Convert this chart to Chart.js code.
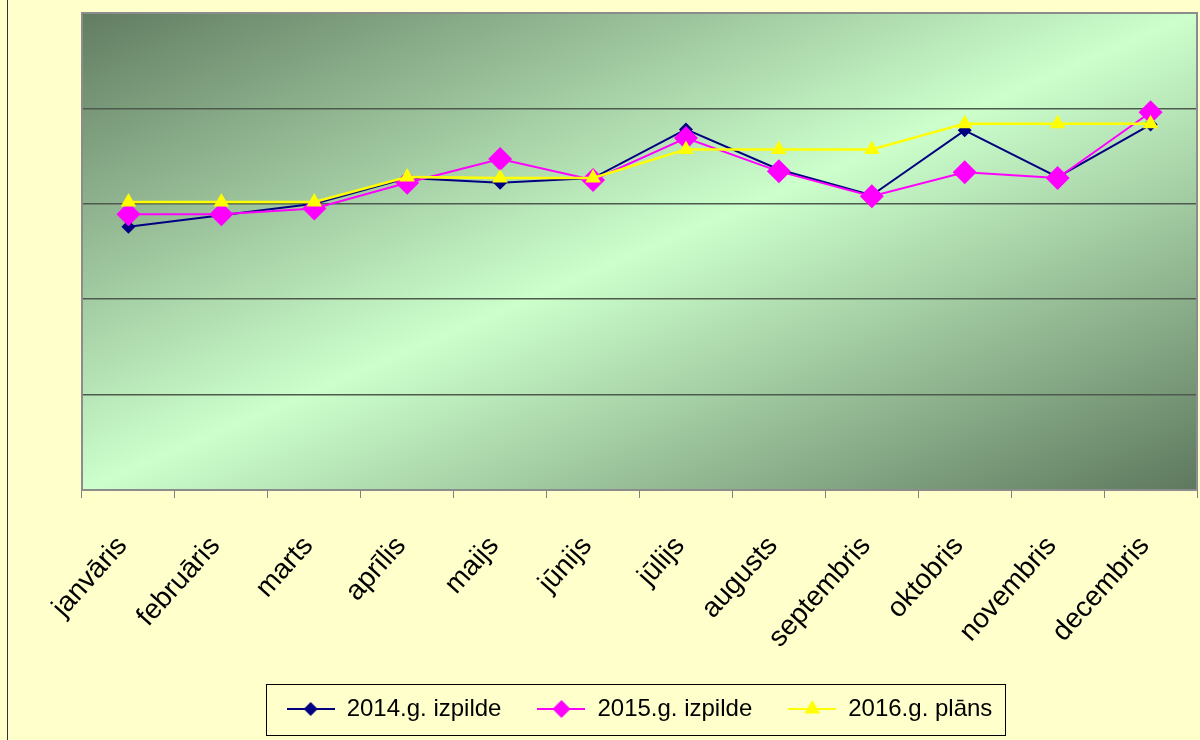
<!DOCTYPE html>
<html>
<head>
<meta charset="utf-8">
<script src="https://cdn.jsdelivr.net/npm/chart.js@4.4.1/dist/chart.umd.min.js"></script>
<style>
  html, body { margin: 0; padding: 0; background: #FFFFCC; }
  #wrap { width: 1200px; height: 740px; }
</style>
</head>
<body>
<div id="wrap"><canvas id="chart" width="1200" height="740"></canvas></div>
<script>
var months = ['janvāris', 'februāris', 'marts', 'aprīlis', 'maijs', 'jūnijs', 'jūlijs', 'augusts', 'septembris', 'oktobris', 'novembris', 'decembris']
var izpilde2014 = [276, 288, 300, 327, 322, 327, 378, 336, 309, 377, 328, 383]
var izpilde2015 = [289, 289, 295, 322, 347, 325, 369, 334, 308, 333, 327, 396]
var plans2016 = [302, 302, 302, 328, 327, 327, 357, 357, 357, 384, 384, 384]
var seriesNames = ['2014.g. izpilde', '2015.g. izpilde', '2016.g. plāns']

var FONT = "'Liberation Sans', Arial, sans-serif"

// small line+marker pictures for the legend
function legendIcon(color, shape, r) {
  var c = document.createElement('canvas')
  c.width = 48
  c.height = 24
  var g = c.getContext('2d')
  g.strokeStyle = color
  g.lineWidth = 2
  g.beginPath()
  g.moveTo(0, 12)
  g.lineTo(48, 12)
  g.stroke()
  g.fillStyle = color
  g.beginPath()
  if (shape === 'diamond') {
    g.moveTo(24, 12 - r); g.lineTo(24 + r, 12); g.lineTo(24, 12 + r); g.lineTo(24 - r, 12)
  } else {
    g.moveTo(24, 12 - r); g.lineTo(24 + r * 0.87, 12 + r * 0.5); g.lineTo(24 - r * 0.87, 12 + r * 0.5)
  }
  g.closePath()
  g.fill()
  return c
}
var icons = [legendIcon('#000080', 'diamond', 7), legendIcon('#FF00FF', 'diamond', 9), legendIcon('#FFFF00', 'tri', 9)]

var backdrop = {
  id: 'backdrop',
  beforeDraw: function (chart) {
    var ctx = chart.ctx, a = chart.chartArea
    ctx.save()
    ctx.fillStyle = '#FFFFCC'
    ctx.fillRect(0, 0, chart.width, chart.height)
    ctx.fillStyle = '#333'
    ctx.fillRect(7, 0, 1, chart.height)
    var w = a.right - a.left, h = a.bottom - a.top
    var cx = (a.left + a.right) / 2, cy = (a.top + a.bottom) / 2
    var n = Math.sqrt(w * w + h * h), d = w * h / n
    var ux = h / n, uy = w / n
    var grad = ctx.createLinearGradient(cx - d * ux, cy - d * uy, cx + d * ux, cy + d * uy)
    grad.addColorStop(0, 'rgb(98,124,98)')
    grad.addColorStop(0.5, 'rgb(204,255,204)')
    grad.addColorStop(1, 'rgb(94,120,94)')
    ctx.fillStyle = grad
    ctx.fillRect(a.left, a.top, w, h)
    ctx.restore()
  },
  beforeDatasetsDraw: function (chart) {
    var ctx = chart.ctx, a = chart.chartArea
    ctx.save()
    ctx.strokeStyle = '#8c8c8c'
    ctx.lineWidth = 2
    ctx.strokeRect(a.left, a.top, a.right - a.left, a.bottom - a.top)
    ctx.restore()
  },
  afterDraw: function (chart) {
    var boxes = chart.legend.legendHitBoxes
    if (!boxes || !boxes.length) return
    var first = boxes[0], last = boxes[boxes.length - 1]
    var mid = first.top + first.height / 2
    var ctx = chart.ctx
    ctx.save()
    ctx.strokeStyle = '#000'
    ctx.lineWidth = 1
    ctx.strokeRect(Math.round(first.left - 21) + 0.5, Math.round(mid - 25) + 0.5, Math.round(last.left + last.width + 12 - first.left + 21), 51)
    ctx.restore()
  }
}

var ctx = document.getElementById('chart').getContext('2d')
var myChart = new Chart(ctx, {
  type: 'line',
  data: {
    labels: months,
    datasets: [
      {
        label: seriesNames[0],
        data: izpilde2014,
        borderColor: '#000080',
        backgroundColor: '#000080',
        borderWidth: 2,
        pointStyle: 'rectRot',
        pointRadius: 7,
        pointBorderWidth: 0,
        order: 2,
      },
      {
        label: seriesNames[1],
        data: izpilde2015,
        borderColor: '#FF00FF',
        backgroundColor: '#FF00FF',
        borderWidth: 2,
        pointStyle: 'rectRot',
        pointRadius: 12,
        pointBorderWidth: 0,
        order: 1,
      },
      {
        label: seriesNames[2],
        data: plans2016,
        borderColor: '#FFFF00',
        backgroundColor: '#FFFF00',
        borderWidth: 2.5,
        pointStyle: 'triangle',
        pointRadius: 9,
        pointBorderWidth: 0,
        order: 0,
      },
    ],
  },
  options: {
    responsive: false,
    animation: false,
    layout: { autoPadding: false, padding: { left: 82, right: 3, top: 13, bottom: 9 } },
    scales: {
      x: {
        offset: true,
        grid: { offset: true, drawOnChartArea: false, drawTicks: true, tickLength: 8, color: '#808080' },
        border: { color: '#606060', width: 2 },
        ticks: {
          autoSkip: false,
          minRotation: 48,
          maxRotation: 48,
          padding: 32,
          labelOffset: -6,
          color: '#000',
          font: { family: FONT, size: 28 },
        },
        afterFit: function (scale) {
          scale.height = 171
          scale.paddingRight = 0
          scale.paddingLeft = 0
        },
      },
      y: {
        min: 0,
        max: 500,
        ticks: { display: false, stepSize: 100 },
        grid: { drawTicks: false, color: '#4f5a4f', lineWidth: 1.5 },
        border: { color: '#8c8c8c', width: 2 },
      },
    },
    plugins: {
      tooltip: { enabled: false },
      legend: {
        position: 'bottom',
        labels: {
          usePointStyle: true,
          pointStyleWidth: 48,
          padding: 36,
          color: '#000',
          font: { family: FONT, size: 24 },
          generateLabels: function (chart) {
            return chart.data.datasets.map(function (ds, i) {
              return { text: ds.label, pointStyle: icons[i], fillStyle: ds.borderColor, strokeStyle: ds.borderColor, lineWidth: 0, datasetIndex: i, hidden: false }
            })
          },
        },
      },
    },
  },
  plugins: [backdrop],
})
</script>
</body>
</html>
